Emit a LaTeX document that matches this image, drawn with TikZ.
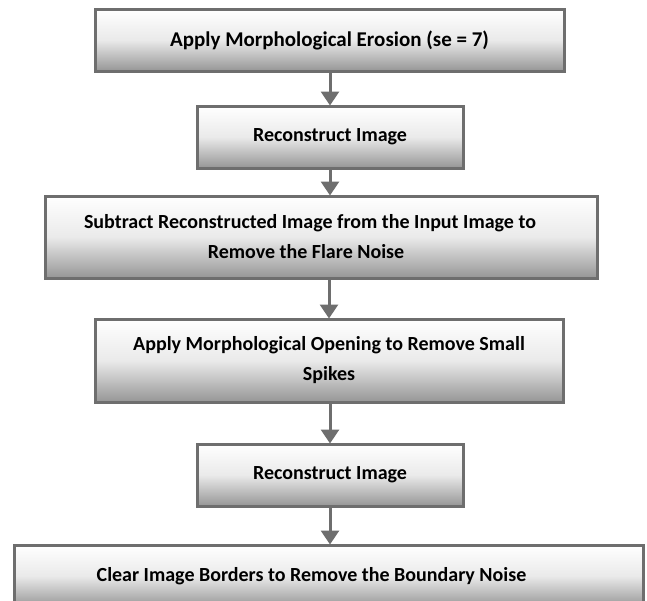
\documentclass[tikz,border=0pt]{standalone}
\usepackage{fontspec}
\setmainfont{Carlito}
\usetikzlibrary{arrows.meta}
\definecolor{edgegray}{RGB}{110,110,110}
\definecolor{botgray}{RGB}{150,150,150}
\tikzset{
  stepbox/.style={draw=edgegray, line width=3pt, top color=white, bottom color=botgray,
    middle color=white!80!botgray, shading angle=0, inner sep=0pt, align=center,
    font=\fontsize{20}{30}\selectfont\bfseries},
  flow/.style={draw=edgegray, line width=3pt, -{Triangle[length=14pt,width=18pt]}, shorten >=-1pt}
}
\begin{document}
\begin{tikzpicture}[x=1pt,y=-1pt]
\useasboundingbox (0,0) rectangle (647,600);
\clip (0,0) rectangle (647,600);
\node[stepbox, minimum width=469pt, minimum height=62pt] (b1) at (329.5,40) {\fontsize{21}{30}\selectfont Apply Morphological Erosion (se = 7)};
\node[stepbox, minimum width=266pt, minimum height=62pt] (b2) at (330,137) {Reconstruct Image};
\node[stepbox, minimum width=552pt, minimum height=82pt] (b3) at (321,237) {Subtract Reconstructed Image from the Input Image to\hspace*{22pt}\\Remove the Flare Noise\hspace*{30pt}};
\node[stepbox, minimum width=468pt, minimum height=83pt] (b4) at (329,360.5) {Apply Morphological Opening to Remove Small\\Spikes};
\node[stepbox, minimum width=266pt, minimum height=62pt] (b5) at (330,475) {Reconstruct Image};
\node[stepbox, minimum width=629pt, minimum height=62pt] (b6) at (328.5,576) {Clear Image Borders to Remove the Boundary Noise\hspace*{34pt}};
\draw[flow] (b1.south -| b2.north) -- (b2.north);
\draw[flow] (b2.south) -- (b2.south |- b3.north);
\draw[flow] (b3.south -| b4.north) -- (b4.north);
\draw[flow] (b4.south -| b5.north) -- (b5.north);
\draw[flow] (b5.south) -- (b5.south |- b6.north);
\end{tikzpicture}
\end{document}
